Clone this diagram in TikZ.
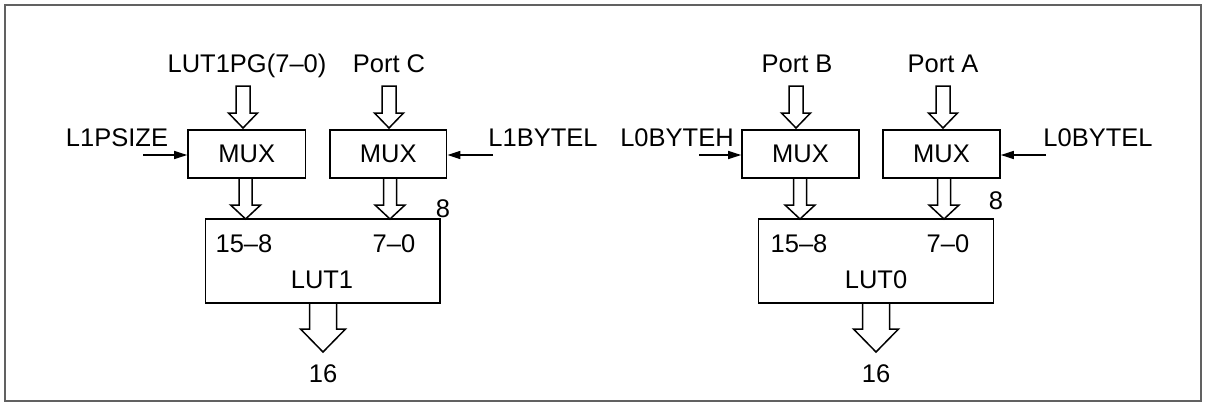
\documentclass[tikz,border=0pt]{standalone}
\usepackage{fontspec}
\setmainfont{Liberation Sans}
\usetikzlibrary{arrows.meta,calc}
\tikzset{
  box/.style={draw, line width=1.6pt, inner sep=0pt, font=\fontsize{25.5}{30}\selectfont},
  lbl/.style={anchor=base, inner sep=0pt, font=\fontsize{25.5}{30}\selectfont},
  hollow/.style={draw, line width=1.5pt, fill=white, line join=miter},
  thin/.style={line width=1.5pt, -{Triangle[length=13pt,width=8pt]}},
  frame/.style={draw=black!62, line width=2pt}
}
% #1 tail coordinate, #2 tip coordinate, #3 shaft half width, #4 head half width, #5 head length
\newcommand\hollowarrow[5]{%
  \draw[hollow] let \p1=(#1), \p2=(#2) in
    (\x2-#3,\y1) -- (\x2-#3,\y2+#5) -- (\x2-#4,\y2+#5) -- (\x2,\y2) --
    (\x2+#4,\y2+#5) -- (\x2+#3,\y2+#5) -- (\x2+#3,\y1) -- cycle;}
\begin{document}
\begin{tikzpicture}[x=1pt,y=-1pt]
\useasboundingbox (0,0) rectangle (1206,402);
\draw[frame] (5,5) rectangle (1200.5,400.5);

% ---------- left half ----------
\node[box, minimum width=117.5pt, minimum height=48pt] (mux1) at (246.75,154) {MUX};
\node[box, minimum width=116.6pt, minimum height=48pt] (mux2) at (388.3,154) {MUX};
\node[box, minimum width=234.5pt, minimum height=84pt] (lut1) at (322.75,261) {};

\node[lbl] (lut1pg) at (247,72) {LUT1PG(7–0)};
\node[lbl] (portc) at (389,72) {Port C};
\node[lbl] (l1psize) at (117,146) {L1PSIZE};
\node[lbl] (l1bytel) at (543,146) {L1BYTEL};
\node[lbl] (eight1) at (443,217) {8};
\node[lbl] (hi1) at (244,252) {15–8};
\node[lbl] (lo1) at (394,252) {7–0};
\node[lbl] (name1) at (322,288) {LUT1};
\node[lbl] (out1) at (323,382) {16};

\coordinate (a1t) at (243,86);  \coordinate (a1h) at (243,128);
\coordinate (a2t) at (389,86);  \coordinate (a2h) at (389,128);
\hollowarrow{a1t}{a1h}{7pt}{14.5pt}{15pt}
\hollowarrow{a2t}{a2h}{7pt}{14.5pt}{15pt}

\coordinate (b1t) at (245.6,178); \coordinate (b1h) at (245.6,219);
\coordinate (b2t) at (390,178);   \coordinate (b2h) at (390,219);
\hollowarrow{b1t}{b1h}{6.5pt}{15pt}{14pt}
\hollowarrow{b2t}{b2h}{6.5pt}{15pt}{14pt}

\coordinate (c1t) at (323,303); \coordinate (c1h) at (323,352);
\hollowarrow{c1t}{c1h}{13.5pt}{22.5pt}{23pt}

\coordinate (s1) at (143,155);
\coordinate (s2) at (493,155);
\draw[thin] (s1) -- (s1 -| mux1.west);
\draw[thin] (s2) -- (s2 -| mux2.east);

% ---------- right half ----------
\node[box, minimum width=117pt, minimum height=48pt] (muxb) at (800.5,154) {MUX};
\node[box, minimum width=117pt, minimum height=48pt] (muxa) at (941.5,154) {MUX};
\node[box, minimum width=235pt, minimum height=84pt] (lut0) at (876,261) {};

\node[lbl] (portb) at (797,72) {Port B};
\node[lbl] (porta) at (943,72) {Port A};
\node[lbl] (l0byteh) at (677,146) {L0BYTEH};
\node[lbl] (l0bytel) at (1098,146) {L0BYTEL};
\node[lbl] (eight0) at (996,209) {8};
\node[lbl] (hi0) at (799,252) {15–8};
\node[lbl] (lo0) at (948,252) {7–0};
\node[lbl] (name0) at (876,288) {LUT0};
\node[lbl] (out0) at (876,382) {16};

\coordinate (a3t) at (796,86);  \coordinate (a3h) at (796,128);
\coordinate (a4t) at (943,86);  \coordinate (a4h) at (943,128);
\hollowarrow{a3t}{a3h}{7pt}{14.5pt}{15pt}
\hollowarrow{a4t}{a4h}{7pt}{14.5pt}{15pt}

\coordinate (b3t) at (800,178); \coordinate (b3h) at (800,219);
\coordinate (b4t) at (944,178); \coordinate (b4h) at (944,219);
\hollowarrow{b3t}{b3h}{6.5pt}{15pt}{14pt}
\hollowarrow{b4t}{b4h}{6.5pt}{15pt}{14pt}

\coordinate (c0t) at (876,303); \coordinate (c0h) at (876,352);
\hollowarrow{c0t}{c0h}{13.5pt}{22.5pt}{23pt}

\coordinate (s3) at (699,155);
\coordinate (s4) at (1046,155);
\draw[thin] (s3) -- (s3 -| muxb.west);
\draw[thin] (s4) -- (s4 -| muxa.east);
\end{tikzpicture}
\end{document}
